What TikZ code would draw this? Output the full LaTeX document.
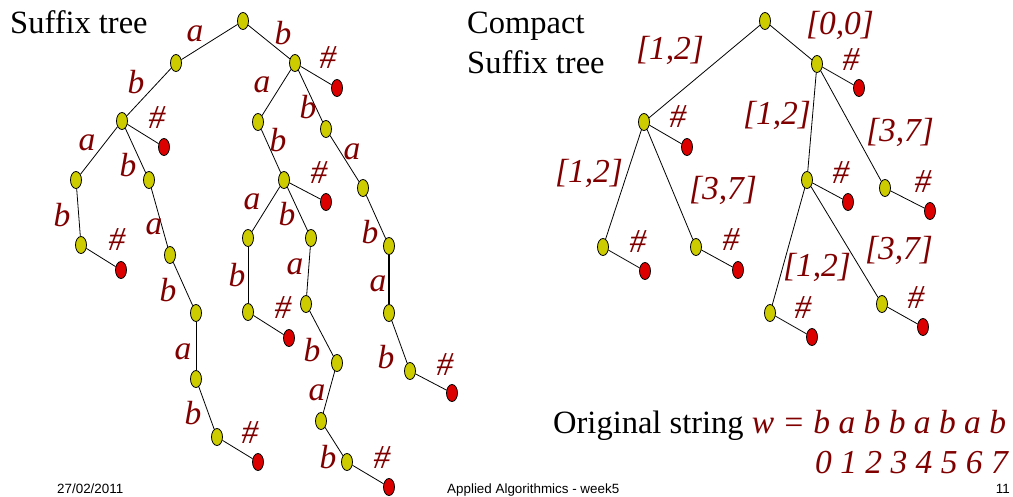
\documentclass[tikz,border=0pt]{standalone}
\usepackage{fontspec}
\setmainfont{Liberation Serif}
\setsansfont{Liberation Sans}
\usetikzlibrary{shapes.geometric}
\definecolor{ynode}{HTML}{CCCC00}
\definecolor{rnode}{HTML}{DD0000}
\definecolor{lab}{HTML}{800000}
\tikzset{
  yn/.style={ellipse, draw=black, line width=0.8pt, fill=ynode, minimum width=11pt, minimum height=17pt, inner sep=0pt},
  rn/.style={ellipse, draw=black, line width=0.8pt, fill=rnode, minimum width=11pt, minimum height=17pt, inner sep=0pt},
  lbl/.style={text=lab, font=\fontsize{33.5}{38}\selectfont\itshape, inner sep=0pt},
  ttl/.style={text=black, font=\fontsize{32.5}{37}\selectfont, inner sep=0pt, anchor=base west},
  foot/.style={text=black, font=\fontsize{13.4}{16}\selectfont\sffamily, inner sep=0pt},
  edge/.style={draw=black, line width=0.8pt},
  thickedge/.style={draw=black, line width=2pt}
}
\begin{document}
\begin{tikzpicture}[x=1pt,y=-1pt]
\useasboundingbox (0,0) rectangle (1013,496);
% titles
\node[ttl] (t1) at (10,33) {Suffix tree};
\node[ttl] (t2) at (467,33) {Compact};
\node[ttl] (t3) at (467,73) {Suffix tree};
\node[ttl] (t4) at (553,433) {Original string \textcolor{lab}{\fontsize{33.5}{38}\selectfont\itshape w = b a b b a b a b}};
\node[lbl, anchor=base east] (t5) at (1008,473) {0 1 2 3 4 5 6 7};
% footer
\node[foot, anchor=base west] (f1) at (57,493) {27/02/2011};
\node[foot, anchor=base west] (f2) at (447,493) {Applied Algorithmics - week5};
\node[foot, anchor=base east] (f3) at (1010,493) {11};

% ---------- left suffix tree ----------
\node[yn] (root) at (243,21) {};
\node[yn] (n1) at (176,63) {};
\node[yn] (n2) at (295,63) {};
\node[rn] (r2) at (337,88) {};
\node[yn] (n3) at (122,121) {};
\node[rn] (r3) at (164,147) {};
\node[yn] (n4) at (258,122) {};
\node[yn] (n5) at (326,129) {};
\node[yn] (n6) at (76,180) {};
\node[yn] (n7) at (149,180) {};
\node[yn] (n8) at (284,180) {};
\node[rn] (r8) at (326,202) {};
\node[yn] (n9) at (363,188) {};
\node[yn] (n10) at (81,245) {};
\node[rn] (r10) at (121,270) {};
\node[yn] (n11) at (170,255) {};
\node[yn] (n12) at (248,238) {};
\node[yn] (n13) at (311,238) {};
\node[yn] (n14) at (389,246) {};
\node[yn] (n15) at (196,313) {};
\node[yn] (n16) at (248,312) {};
\node[rn] (r16) at (289,338) {};
\node[yn] (n17) at (306,304) {};
\node[yn] (n18) at (389,313) {};
\node[yn] (n19) at (196,379) {};
\node[yn] (n20) at (337,363) {};
\node[yn] (n21) at (410,371) {};
\node[rn] (r21) at (452,393) {};
\node[yn] (n22) at (217,437) {};
\node[rn] (r22) at (258,462) {};
\node[yn] (n23) at (321,421) {};
\node[yn] (n24) at (347,462) {};
\node[rn] (r24) at (389,487) {};

\draw[edge] (root) -- (n1);
\draw[edge] (root) -- (n2);
\draw[edge] (n2) -- (r2);
\draw[edge] (n1) -- (n3);
\draw[edge] (n3) -- (r3);
\draw[edge] (n2) -- (n4);
\draw[edge] (n2) -- (n5);
\draw[edge] (n3) -- (n6);
\draw[edge] (n3) -- (n7);
\draw[edge] (n4) -- (n8);
\draw[edge] (n8) -- (r8);
\draw[edge] (n5) -- (n9);
\draw[edge] (n6) -- (n10);
\draw[edge] (n10) -- (r10);
\draw[edge] (n7) -- (n11);
\draw[edge] (n8) -- (n12);
\draw[edge] (n8) -- (n13);
\draw[edge] (n9) -- (n14);
\draw[edge] (n11) -- (n15);
\draw[edge] (n12) -- (n16);
\draw[edge] (n16) -- (r16);
\draw[edge] (n13) -- (n17);
\draw[thickedge] (n14) -- (n18);
\draw[edge] (n15) -- (n19);
\draw[edge] (n17) -- (n20);
\draw[edge] (n18) -- (n21);
\draw[edge] (n21) -- (r21);
\draw[edge] (n19) -- (n22);
\draw[edge] (n22) -- (r22);
\draw[edge] (n20) -- (n23);
\draw[edge] (n23) -- (n24);
\draw[edge] (n24) -- (r24);

\node[lbl] (la1) at (195,34) {a};
\node[lbl] (la2) at (283,33) {b};
\node[lbl] (la3) at (328,58) {\#};
\node[lbl] (la4) at (136,82) {b};
\node[lbl] (la5) at (157,118) {\#};
\node[lbl] (la6) at (87,143) {a};
\node[lbl] (la7) at (128,165) {b};
\node[lbl] (la8) at (262,85) {a};
\node[lbl] (la9) at (308,107) {b};
\node[lbl] (la10) at (278,140) {b};
\node[lbl] (la11) at (319,173) {\#};
\node[lbl] (la12) at (252,202) {a};
\node[lbl] (la13) at (287,214) {b};
\node[lbl] (la14) at (62,215) {b};
\node[lbl] (la15) at (117,240) {\#};
\node[lbl] (la16) at (154,227) {a};
\node[lbl] (la17) at (352,152) {a};
\node[lbl] (la18) at (370,232) {b};
\node[lbl] (la19) at (378,284) {a};
\node[lbl] (la20) at (386,357) {b};
\node[lbl] (la21) at (445,365) {\#};
\node[lbl] (la22) at (237,275) {b};
\node[lbl] (la23) at (283,308) {\#};
\node[lbl] (la24) at (295,267) {a};
\node[lbl] (la25) at (312,350) {b};
\node[lbl] (la26) at (317,393) {a};
\node[lbl] (la27) at (328,457) {b};
\node[lbl] (la28) at (382,458) {\#};
\node[lbl] (la29) at (168,290) {b};
\node[lbl] (la30) at (183,352) {a};
\node[lbl] (la31) at (193,413) {b};
\node[lbl] (la32) at (250,433) {\#};

% ---------- compact suffix tree ----------
\node[yn] (croot) at (765,21) {};
\node[yn] (cA) at (644,122) {};
\node[rn] (rA) at (687,147) {};
\node[yn] (cB) at (817,64) {};
\node[rn] (rB) at (859,88) {};
\node[yn] (cC) at (807,180) {};
\node[rn] (rC) at (848,202) {};
\node[yn] (cD) at (885,188) {};
\node[rn] (rD) at (930,211) {};
\node[yn] (cA1) at (603,247) {};
\node[rn] (rA1) at (645,271) {};
\node[yn] (cA2) at (696,247) {};
\node[rn] (rA2) at (738,270) {};
\node[yn] (cE) at (770,313) {};
\node[rn] (rE) at (812,337) {};
\node[yn] (cF) at (882,304) {};
\node[rn] (rF) at (923,327) {};

\draw[edge] (croot) -- (cA);
\draw[edge] (croot) -- (cB);
\draw[edge] (cA) -- (rA);
\draw[edge] (cB) -- (rB);
\draw[edge] (cB) -- (cC);
\draw[edge] (cB) -- (cD);
\draw[edge] (cC) -- (rC);
\draw[edge] (cD) -- (rD);
\draw[edge] (cA) -- (cA1);
\draw[edge] (cA) -- (cA2);
\draw[edge] (cA1) -- (rA1);
\draw[edge] (cA2) -- (rA2);
\draw[edge] (cC) -- (cE);
\draw[edge] (cC) -- (cF);
\draw[edge] (cE) -- (rE);
\draw[edge] (cF) -- (rF);

\node[lbl] (lc1) at (670,50) {[1,2]};
\node[lbl] (lc2) at (840,25) {[0,0]};
\node[lbl] (lc3) at (851,60) {\#};
\node[lbl] (lc4) at (678,117) {\#};
\node[lbl] (lc5) at (777,115) {[1,2]};
\node[lbl] (lc6) at (900,132) {[3,7]};
\node[lbl] (lc7) at (841,173) {\#};
\node[lbl] (lc8) at (923,182) {\#};
\node[lbl] (lc9) at (589,173) {[1,2]};
\node[lbl] (lc10) at (723,190) {[3,7]};
\node[lbl] (lc11) at (638,242) {\#};
\node[lbl] (lc12) at (731,240) {\#};
\node[lbl] (lc13) at (817,267) {[1,2]};
\node[lbl] (lc14) at (899,250) {[3,7]};
\node[lbl] (lc15) at (803,308) {\#};
\node[lbl] (lc16) at (916,298) {\#};
\end{tikzpicture}
\end{document}
